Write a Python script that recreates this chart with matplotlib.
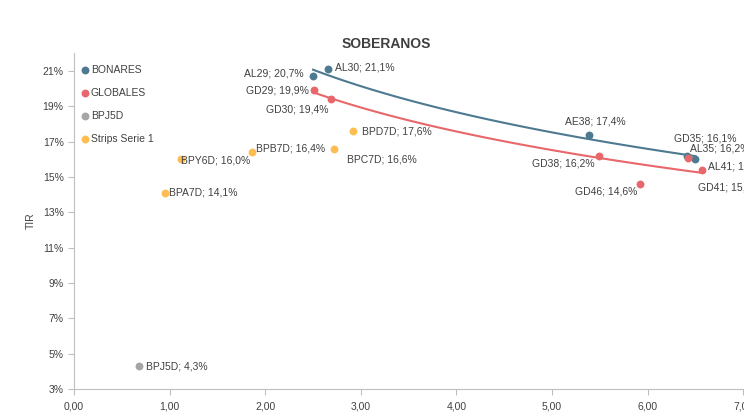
import numpy as np
import matplotlib
matplotlib.use("Agg")
import matplotlib.pyplot as plt
from matplotlib.ticker import FuncFormatter

plt.rcParams['font.family'] = ['Liberation Sans', 'DejaVu Sans']

# BONARES
bon_names = ["AL29", "AL30", "AE38", "AL35", "AL41"]
bon_x = [2.50, 2.66, 5.39, 6.41, 6.50]
bon_y = [20.7, 21.1, 17.4, 16.2, 16.0]

# GLOBALES
glo_names = ["GD29", "GD30", "GD38", "GD46", "GD35", "GD41"]
glo_x = [2.51, 2.69, 5.49, 5.92, 6.42, 6.57]
glo_y = [19.9, 19.4, 16.2, 14.6, 16.1, 15.4]

# BPJ5D
bpj_names = ["BPJ5D"]
bpj_x = [0.68]
bpj_y = [4.3]

# Strips Serie 1
str_names = ["BPY6D", "BPA7D", "BPB7D", "BPC7D", "BPD7D"]
str_x = [1.12, 0.95, 1.86, 2.72, 2.92]
str_y = [16.0, 14.1, 16.4, 16.6, 17.6]

c_bon = "#4d7a91"
c_glo = "#e8676a"
c_bpj = "#a5a5a5"
c_str = "#fdbd52"
txt = "#404040"

# label offsets in points (dx, dy, ha, va)
offsets = {
    "AL29": (-7, 2, "right", "center"), "AL30": (5, 1, "left", "center"),
    "AE38": (4, 6, "center", "bottom"), "AL35": (2, 5, "left", "center"),
    "AL41": (9, -5, "left", "center"),
    "GD29": (-4, 0, "right", "center"), "GD30": (-2, -4, "right", "top"),
    "GD38": (-3, -2, "right", "top"), "GD46": (-2, -2, "right", "top"),
    "GD35": (-10, 10, "left", "bottom"), "GD41": (-3, -9, "left", "top"),
    "BPJ5D": (5, 0, "left", "center"),
    "BPY6D": (0, -1, "left", "center"), "BPA7D": (3, 0, "left", "center"),
    "BPB7D": (3, 3, "left", "center"), "BPC7D": (9, -4, "left", "top"),
    "BPD7D": (6, 0, "left", "center"),
}

fig = plt.figure(figsize=(7.44, 4.12), dpi=100)
ax = fig.add_axes([74 / 744, 1 - 389 / 412, (743.3 - 74) / 744, (389 - 53.3) / 412])

series = [
    ("BONARES", bon_names, bon_x, bon_y, c_bon),
    ("GLOBALES", glo_names, glo_x, glo_y, c_glo),
    ("BPJ5D", bpj_names, bpj_x, bpj_y, c_bpj),
    ("Strips Serie 1", str_names, str_x, str_y, c_str),
]

for lab, names, xs, ys, col in series:
    ax.scatter(xs, ys, s=32, color=col, label=lab, zorder=3, linewidths=0)
    for n, x, y in zip(names, xs, ys):
        dx, dy, ha, va = offsets[n]
        s = "%s; %s%%" % (n, ("%.1f" % y).replace(".", ","))
        ax.annotate(s, (x, y), xytext=(dx, dy), textcoords="offset points",
                    ha=ha, va=va, fontsize=7.5, color=txt, zorder=4,
                    annotation_clip=False)

# logarithmic trend lines (like Excel)
for xs, ys, col in [(bon_x, bon_y, c_bon), (glo_x, glo_y, c_glo)]:
    a, b = np.polyfit(np.log(xs), ys, 1)
    xx = np.linspace(min(xs), max(xs), 100)
    ax.plot(xx, a * np.log(xx) + b, color=col, lw=1.5, zorder=2)

ax.set_xlim(0, 7)
ax.set_ylim(3, 22)
ax.set_xticks(np.arange(0, 8, 1))
ax.set_yticks(np.arange(3, 22, 2))
ax.xaxis.set_major_formatter(FuncFormatter(lambda v, p: ("%.2f" % v).replace(".", ",")))
ax.yaxis.set_major_formatter(FuncFormatter(lambda v, p: "%d%%" % v))
ax.tick_params(labelsize=7.5, colors=txt, length=4, color="#bfbfbf")
ax.tick_params(axis="x", pad=5)
for sp in ["top", "right"]:
    ax.spines[sp].set_visible(False)
for sp in ["left", "bottom"]:
    ax.spines[sp].set_color("#bfbfbf")
ax.set_ylabel("TIR", fontsize=7.5, color=txt, labelpad=5)

leg = ax.legend(loc="upper left", bbox_to_anchor=(0.005, 0.971), frameon=False,
                fontsize=7.5, handletextpad=0.1, handlelength=1.0,
                labelspacing=1.23, markerscale=1.0, borderaxespad=0.0,
                borderpad=0.2)
for t in leg.get_texts():
    t.set_color(txt)

fig.text(386 / 744, 1 - 44 / 412, "SOBERANOS", ha="center", va="center",
         fontsize=10, fontweight="bold", color=txt)

fig.savefig("out.png", dpi=100)
